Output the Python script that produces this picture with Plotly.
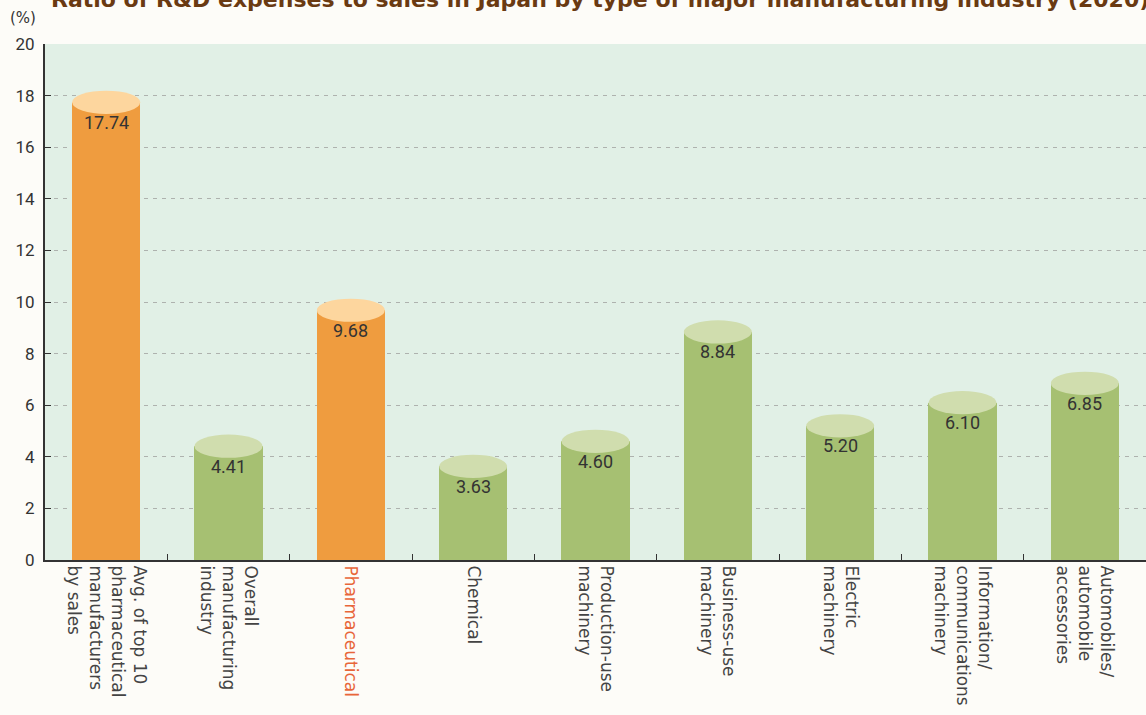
import plotly.graph_objects as go

categories = [
    "Avg. of top 10<br>pharmaceutical<br>manufacturers<br>by sales",
    "Overall<br>manufacturing<br>industry",
    "Pharmaceutical",
    "Chemical",
    "Production-use<br>machinery",
    "Business-use<br>machinery",
    "Electric<br>machinery",
    "Information/<br>communications<br>machinery",
    "Automobiles/<br>automobile<br>accessories",
]
values = [17.74, 4.41, 9.68, 3.63, 4.60, 8.84, 5.20, 6.10, 6.85]
highlight = [True, False, True, False, False, False, False, False, False]
y_ticks = [0, 2, 4, 6, 8, 10, 12, 14, 16, 18, 20]
title_text = "Ratio of R&amp;D expenses to sales in Japan by type of major manufacturing industry (2020)"

ORANGE, ORANGE_TOP = "#ef9c3f", "#fdd69e"
GREEN, GREEN_TOP = "#a6c072", "#d0ddae"
LABEL_FONT = "DejaVu Sans, sans-serif"
NUM_FONT = "Roboto, sans-serif"

bar_w = 0.556
ell_h = 0.45

x_idx = list(range(len(categories)))
colors = [ORANGE if h else GREEN for h in highlight]

fig = go.Figure()
fig.add_trace(go.Bar(
    x=x_idx, y=values, width=bar_w, marker=dict(color=colors, line=dict(width=0)),
    hoverinfo="skip", showlegend=False,
))

shapes = []
annotations = []
for i, (v, h) in enumerate(zip(values, highlight)):
    shapes.append(dict(
        type="circle", xref="x", yref="y", layer="above",
        x0=i - bar_w / 2, x1=i + bar_w / 2, y0=v - ell_h, y1=v + ell_h,
        fillcolor=ORANGE_TOP if h else GREEN_TOP, line=dict(width=0),
    ))
    annotations.append(dict(
        x=i, y=v, xref="x", yref="y", text=f"{v:.2f}", showarrow=False,
        yshift=-20, font=dict(family=NUM_FONT, size=18, color="#333333"),
    ))

annotations.append(dict(
    x=-0.02, y=1.0504, xref="paper", yref="paper", xanchor="center", yanchor="middle",
    text="(%)", showarrow=False, font=dict(family=LABEL_FONT, size=15, color="#333333"),
))
annotations.append(dict(
    x=0.0036, y=1.0872, xref="paper", yref="paper", xanchor="left", yanchor="middle",
    text=f"<b>{title_text}</b>",
    showarrow=False, font=dict(family=LABEL_FONT, size=22, color="#6a3a12"),
))

tick_text = [
    f"<span style='color:#e8663a'>{c}</span>" if c == "Pharmaceutical" else c
    for c in categories
]

fig.update_layout(
    width=1146, height=715,
    margin=dict(l=45, r=0, t=44, b=155),
    paper_bgcolor="#fdfcf8", plot_bgcolor="#e1f0e6",
    bargap=0, shapes=shapes, annotations=annotations,
    font=dict(family=LABEL_FONT, color="#333333"),
)
fig.update_xaxes(
    type="category", tickmode="array", tickvals=x_idx, ticktext=tick_text,
    tickangle=90, tickfont=dict(family=LABEL_FONT, size=17, color="#444444"),
    range=[-0.5, len(categories) - 0.5],
    showline=True, linecolor="#333333", linewidth=2,
    ticks="inside", ticklen=6, tickcolor="#333333", tickson="boundaries",
    showgrid=False,
)
fig.update_yaxes(
    range=[0, 20], tickmode="array", tickvals=y_ticks,
    tickfont=dict(family=NUM_FONT, size=17, color="#333333"),
    showline=True, linecolor="#333333", linewidth=2,
    ticks="inside", ticklen=6, tickcolor="#333333", ticklabelstandoff=5,
    showgrid=True, gridcolor="#aeb2ae", griddash="4px,5px", gridwidth=1,
    zeroline=False,
)

fig.write_html(
    "out.html",
    config={"displayModeBar": False},
    post_script="document.body.style.margin='0';document.body.style.overflow='hidden';",
)
